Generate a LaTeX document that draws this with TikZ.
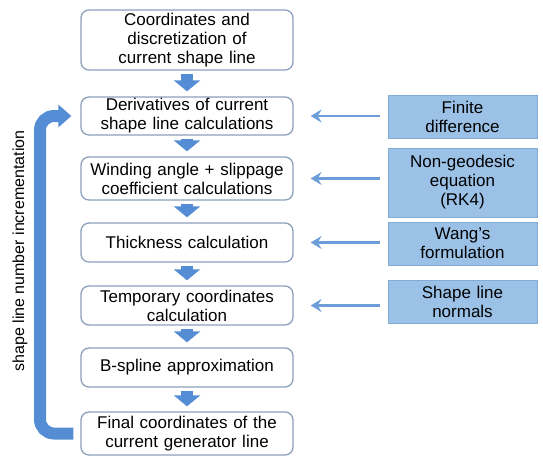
\documentclass[tikz,border=0pt]{standalone}
\usepackage{fontspec}
\setmainfont{Liberation Sans}
\usetikzlibrary{arrows.meta}

\definecolor{boxline}{RGB}{140,160,188}
\definecolor{flowblue}{RGB}{84,141,212}
\definecolor{toolfill}{RGB}{155,194,230}
\definecolor{toolline}{RGB}{130,172,214}

\tikzset{
    stepbox/.style={draw=boxline, line width=1.3pt, rounded corners=8pt, fill=white,
        minimum width=212pt, text width=204pt, align=center, inner sep=0pt,
        font=\fontsize{17}{19}\selectfont},
    toolbox/.style={draw=toolline, line width=0.8pt, fill=toolfill,
        minimum width=149pt, text width=144pt, align=center, inner sep=0pt,
        font=\fontsize{17}{19}\selectfont},
    downarrow/.style={draw=flowblue, line width=12pt, -{Triangle[length=11pt,width=26pt]},
        shorten <=3pt, shorten >=5pt},
    feedarrow/.style={draw=flowblue!85, line width=2.6pt, -{Stealth[length=11pt,width=13pt,inset=4pt]},
        shorten <=8pt, shorten >=17pt}
}

\begin{document}
\begin{tikzpicture}[x=1pt, y=-1pt]
        \useasboundingbox (0,0) rectangle (543,456);

        \node[stepbox, minimum height=60pt] (coord) at (187,40) {Coordinates and\\discretization of\\current shape line};
        \node[stepbox, minimum height=38pt] (deriv) at (187,116) {Derivatives of current\\shape line calculations};
        \node[stepbox, minimum height=43pt] (wind) at (187,178.5) {Winding angle + slippage\\coefficient calculations};
        \node[stepbox, minimum height=39pt] (thick) at (187,242.5) {Thickness calculation};
        \node[stepbox, minimum height=39pt] (temp) at (187,305.5) {Temporary coordinates\\calculation};
        \node[stepbox, minimum height=39pt] (bspl) at (187,367.5) {B-spline approximation};
        \node[stepbox, minimum height=43pt] (final) at (187,433.5) {Final coordinates of the\\current generator line};

        \node[toolbox, minimum height=43pt] (fdiff) at (462.5,116.5) {Finite\\difference};
        \node[toolbox, minimum height=69pt] (geod) at (462.5,182.5) {Non-geodesic\\equation\\(RK4)};
        \node[toolbox, minimum height=43pt] (wang) at (462.5,243.5) {Wang's\\formulation};
        \node[toolbox, minimum height=43pt] (normals) at (462.5,301.5) {Shape line\\normals};

        \node[rotate=90, font=\fontsize{16}{19}\selectfont] (incr) at (20,251) {shape line number incrementation};
        \coordinate (turn) at (40,116);

        \draw[downarrow] (coord) -- (deriv);
        \draw[downarrow] (deriv) -- (wind);
        \draw[downarrow] (wind) -- (thick);
        \draw[downarrow] (thick) -- (temp);
        \draw[downarrow] (temp) -- (bspl);
        \draw[downarrow] (bspl) -- (final);

        \draw[feedarrow] (fdiff.west |- deriv.east) -- (deriv.east);
        \draw[feedarrow] (geod.west |- wind.east) -- (wind.east);
        \draw[feedarrow] (wang.west |- thick.east) -- (thick.east);
        \draw[feedarrow] (normals.west |- temp.east) -- (temp.east);

        \draw[flowblue, line width=12pt, rounded corners=14pt, -{Triangle[length=13pt,width=22pt]},
            shorten <=7pt, shorten >=9pt] (final.west) -| (turn) -- (deriv.west);

    \end{tikzpicture}
\end{document}
